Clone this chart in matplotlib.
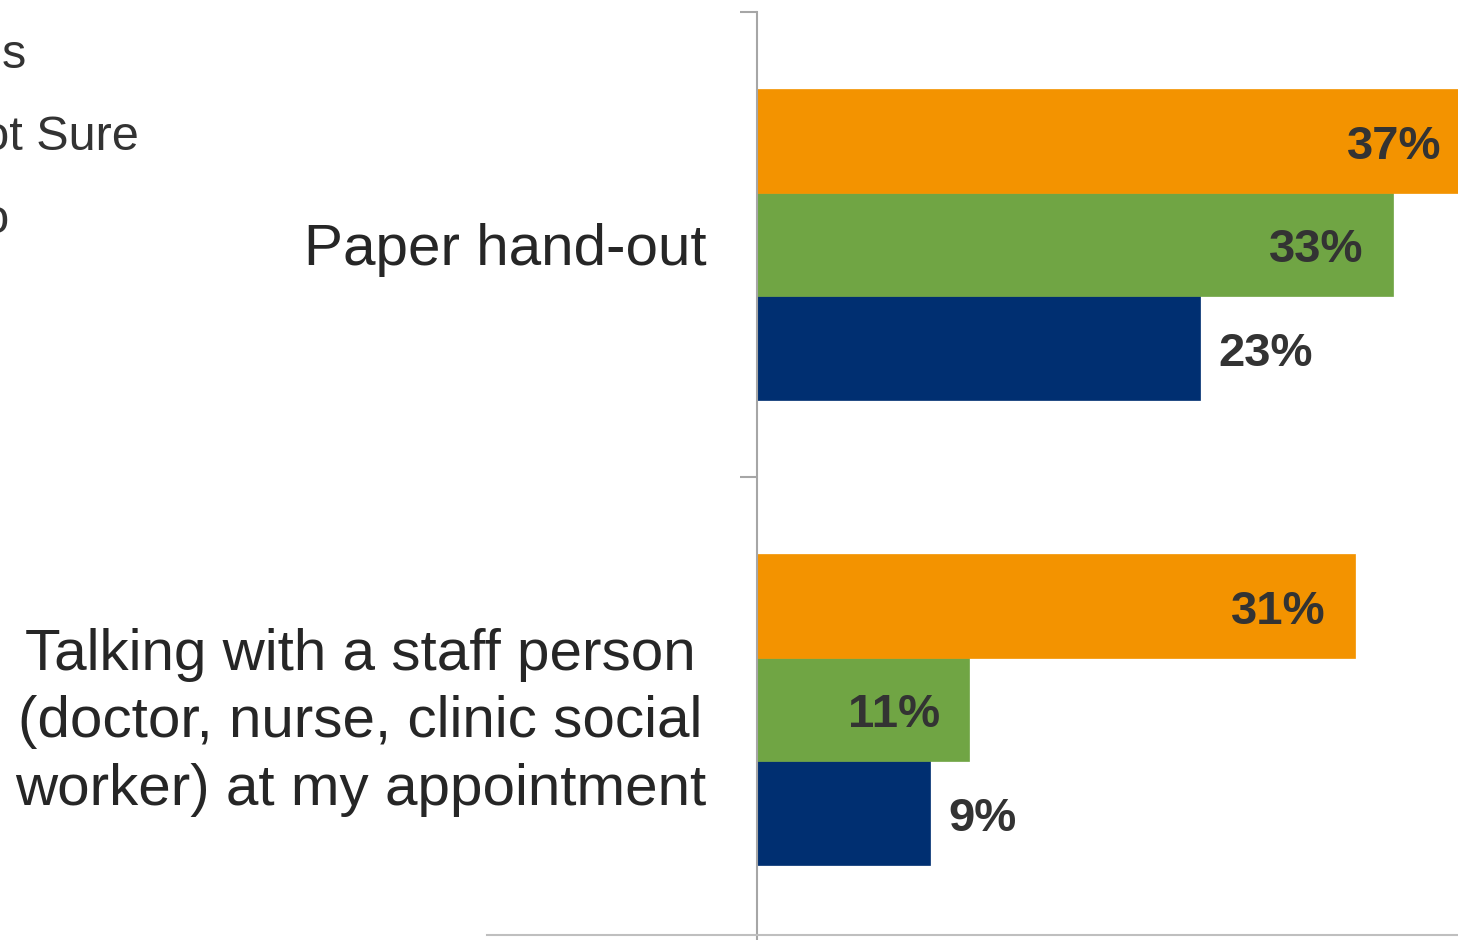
import matplotlib
matplotlib.use('Agg')
import matplotlib.pyplot as plt
from matplotlib.patches import Patch
from matplotlib.lines import Line2D
import numpy as np

plt.rcParams['font.family'] = ['Liberation Sans', 'DejaVu Sans']

CATEGORIES = [
    'Paper hand-out',
    'Talking with a staff person\n(doctor, nurse, clinic social\nworker) at my appointment',
]
SERIES = ['Yes', 'Not Sure', 'No']
YES = [23, 9]
NOT_SURE = [33, 11]
NO = [37, 31]

COLORS = {'Yes': '#002F71', 'Not Sure': '#70A544', 'No': '#F39300'}
TEXT_COLOR = '#262626'
LABEL_COLOR = '#333333'
AXIS_GRAY = '#A6A6A6'

W, H = 1458, 940
fig = plt.figure(figsize=(W / 100, H / 100), dpi=100)
ax = fig.add_axes([757 / W, -2 / H, 771 / W, 930 / H])

y = np.arange(len(CATEGORIES))
bar_h = 0.2226
values = {'Yes': YES, 'Not Sure': NOT_SURE, 'No': NO}
# series 1 sits at the bottom of each cluster (y axis is inverted)
offsets = {'Yes': bar_h, 'Not Sure': 0.0, 'No': -bar_h}

for name in SERIES:
    vals = values[name]
    bars = ax.barh(y + offsets[name], vals, height=bar_h,
                   color=COLORS[name], edgecolor=COLORS[name], linewidth=0.5,
                   label=name)
    for rect, v in zip(bars, vals):
        cy = rect.get_y() + rect.get_height() / 2
        if name == 'Yes':
            ax.annotate(f'{v}%', (v, cy), xytext=(13, -4),
                        textcoords='offset points', ha='left', va='center',
                        fontsize=34, fontweight='bold', color=LABEL_COLOR)
        else:
            ax.annotate(f'{v}%', (v, cy), xytext=(-21, -4),
                        textcoords='offset points', ha='right', va='center',
                        fontsize=34, fontweight='bold', color=LABEL_COLOR)

ax.set_xlim(0, 40)
ax.set_ylim(1.5, -0.5)

for side in ['top', 'right', 'bottom']:
    ax.spines[side].set_visible(False)
ax.spines['left'].set_color(AXIS_GRAY)
ax.spines['left'].set_linewidth(1.5)

ax.set_xticks([])
ax.set_yticks([-0.5, 0.5, 1.5])
ax.set_yticklabels([])
ax.tick_params(axis='y', which='major', length=12, width=1.5,
               color=AXIS_GRAY, direction='out')
ax.set_yticks(y, minor=True)
ax.set_yticklabels(CATEGORIES, minor=True, fontsize=42, color=TEXT_COLOR,
                   multialignment='center', linespacing=1.33)
ax.tick_params(axis='y', which='minor', length=0, pad=36.5)

# thin rule along the bottom
fig.add_artist(Line2D([487 / W, 1.0], [5 / H, 5 / H], transform=fig.transFigure,
                      color='#BFBFBF', linewidth=1.5))

handles = [Patch(color=COLORS[s]) for s in SERIES]
fig.legend(handles, SERIES, loc='upper left',
           bbox_to_anchor=(-126 / W, 1 - 33 / H), frameon=False,
           fontsize=35, handlelength=1.0, handletextpad=0.5,
           labelspacing=0.77, borderpad=0, borderaxespad=0,
           labelcolor=LABEL_COLOR)

fig.savefig('out.png', dpi=100)
